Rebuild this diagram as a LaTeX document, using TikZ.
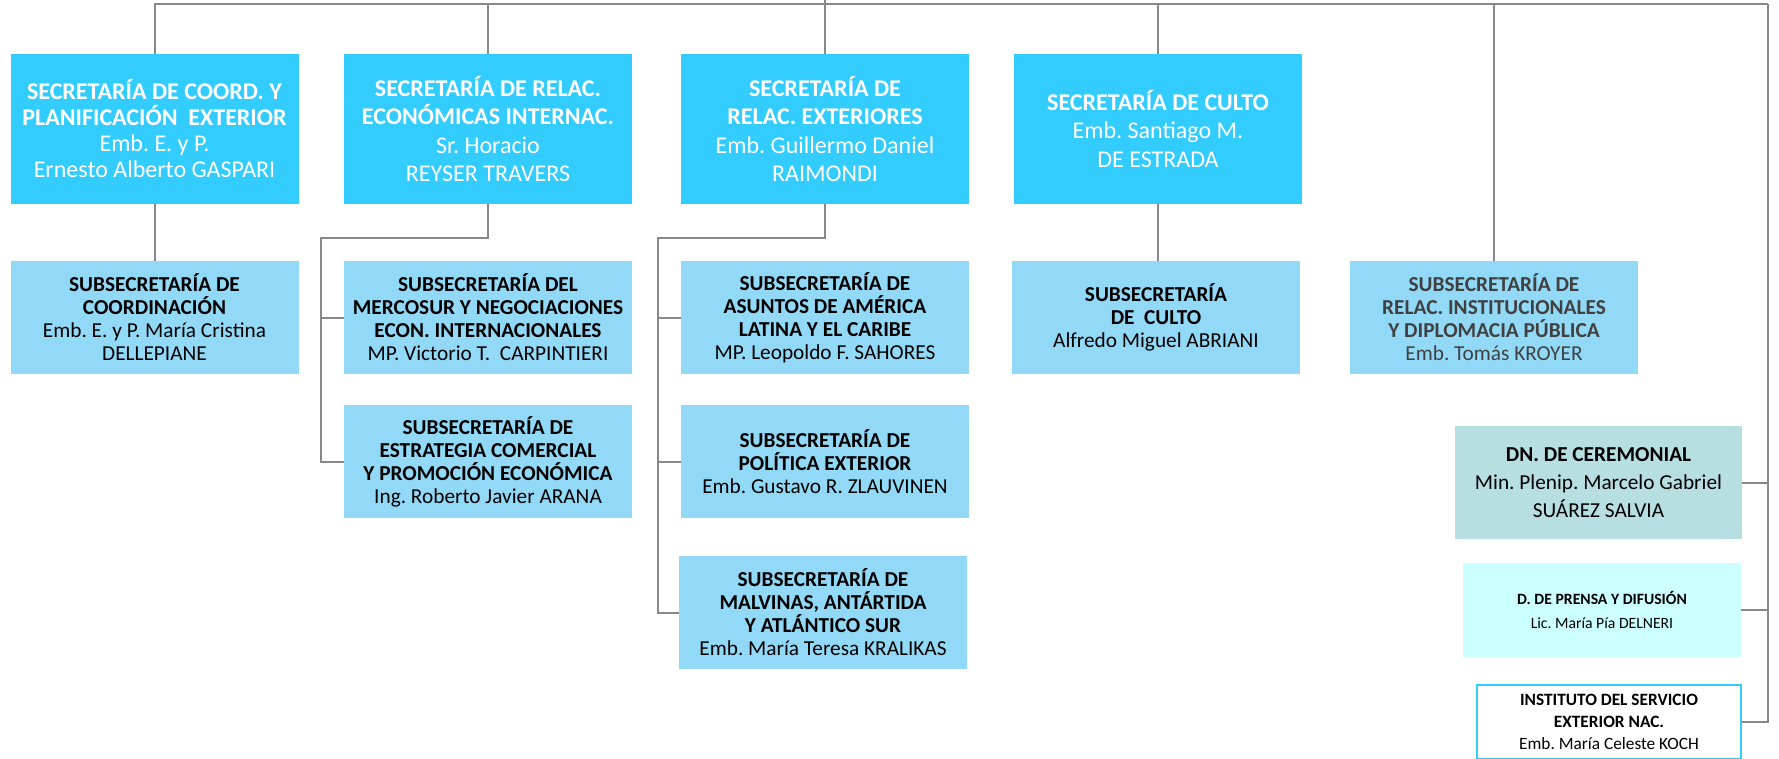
\documentclass[tikz,border=0pt]{standalone}
\usepackage{fontspec}
\setmainfont{Carlito}
\frenchspacing
\definecolor{secblue}{RGB}{51,204,255}
\definecolor{subblue}{RGB}{145,217,247}
\definecolor{ceremgray}{RGB}{183,223,226}
\definecolor{prensacyan}{RGB}{204,255,255}
\definecolor{linegray}{RGB}{136,136,136}
\definecolor{darktext}{RGB}{64,64,64}

\begin{document}
\begin{tikzpicture}[x=1pt, y=-1pt,
    sec/.style={rectangle, fill=secblue, text=white, minimum width=288pt, minimum height=150pt, inner sep=0pt, align=center, font=\fontsize{24}{28.5}\selectfont},
    sub/.style={rectangle, fill=subblue, text=black, minimum width=288pt, minimum height=113pt, inner sep=0pt, align=center, font=\fontsize{21.3}{23}\selectfont},
    link/.style={draw=linegray, line width=2pt}]
    \useasboundingbox (0,0) rectangle (1779,758);

    % Secretarias
    \node[sec, font=\fontsize{24}{26}\selectfont] (coordsec) at (154.5,129) {\textbf{SECRETARÍA DE COORD. Y}\\\textbf{PLANIFICACIÓN\ \ EXTERIOR}\\Emb. E. y P.\\Ernesto Alberto GASPARI};
    \node[sec] (econsec) at (488,129) {\textbf{SECRETARÍA DE RELAC.}\\\textbf{ECONÓMICAS INTERNAC.}\\Sr. Horacio\\REYSER TRAVERS};
    \node[sec] (extsec) at (825,129) {\textbf{SECRETARÍA DE}\\\textbf{RELAC. EXTERIORES}\\Emb. Guillermo Daniel\\RAIMONDI};
    \node[sec] (cultosec) at (1158,129) {\textbf{SECRETARÍA DE CULTO}\\Emb. Santiago M.\\DE ESTRADA};

    % Subsecretarias
    \node[sub] (coordsub) at (154.5,317.5) {\textbf{SUBSECRETARÍA DE}\\\textbf{COORDINACIÓN}\\Emb. E. y P. María Cristina\\DELLEPIANE};
    \node[sub] (mercosub) at (488,317.5) {\textbf{SUBSECRETARÍA DEL}\\\textbf{MERCOSUR Y NEGOCIACIONES}\\\textbf{ECON. INTERNACIONALES}\\MP. Victorio T.\ \ CARPINTIERI};
    \node[sub] (comsub) at (488,461.5) {\textbf{SUBSECRETARÍA DE}\\\textbf{ESTRATEGIA COMERCIAL}\\\textbf{Y PROMOCIÓN ECONÓMICA}\\Ing. Roberto Javier ARANA};
    \node[sub] (latsub) at (825,317.5) {\textbf{SUBSECRETARÍA DE}\\\textbf{ASUNTOS DE AMÉRICA}\\\textbf{LATINA Y EL CARIBE}\\MP. Leopoldo F. SAHORES};
    \node[sub] (polsub) at (825,461.5) {\textbf{SUBSECRETARÍA DE}\\\textbf{POLÍTICA EXTERIOR}\\Emb. Gustavo R. ZLAUVINEN};
    \node[sub] (malsub) at (823,612.5) {\textbf{SUBSECRETARÍA DE}\\\textbf{MALVINAS, ANTÁRTIDA}\\\textbf{Y ATLÁNTICO SUR}\\Emb. María Teresa KRALIKAS};
    \node[sub] (cultosub) at (1156,317.5) {\textbf{SUBSECRETARÍA}\\\textbf{DE\ \ CULTO}\\Alfredo Miguel ABRIANI};
    \node[sub, text=darktext] (instsub) at (1494,317.5) {\textbf{SUBSECRETARÍA DE}\\\textbf{RELAC. INSTITUCIONALES}\\\textbf{Y DIPLOMACIA PÚBLICA}\\Emb. Tomás KROYER};

    % Direcciones
    \node[sub, fill=ceremgray, minimum width=287pt, font=\fontsize{21.3}{28}\selectfont] (cerem) at (1598.5,482.5) {\textbf{DN. DE CEREMONIAL}\\Min. Plenip. Marcelo Gabriel\\SUÁREZ SALVIA};
    \node[sub, fill=prensacyan, minimum width=278pt, minimum height=94pt, font=\fontsize{15.7}{23.5}\selectfont] (prensa) at (1602,610) {\textbf{D. DE PRENSA Y DIFUSIÓN}\\Lic. María Pía DELNERI};
    \node[sub, fill=white, draw=secblue, line width=2pt, minimum width=264pt, minimum height=74pt, font=\fontsize{17.3}{22}\selectfont] (isen) at (1609,722) {\textbf{INSTITUTO DEL SERVICIO}\\\textbf{EXTERIOR NAC.}\\Emb. María Celeste KOCH};

    % Lines
    \coordinate (root) at (825,0);
    \coordinate (rail) at (1768,4);
    \coordinate (econbus) at (321,238);
    \coordinate (extbus) at (658,238);
    \draw[link] (root) -- (extsec);
    \draw[link] (coordsec.north) |- (rail);
    \draw[link] (econsec.north) -- (econsec.north |- rail);
    \draw[link] (cultosec.north) -- (cultosec.north |- rail);
    \draw[link] (instsub.north) -- (instsub.north |- rail);
    \draw[link] (rail) |- (isen.east);
    \draw[link] (cerem.east) -- (cerem.east -| rail);
    \draw[link] (prensa.east) -- (prensa.east -| rail);

    \draw[link] (coordsec) -- (coordsub);
    \draw[link] (cultosec.south) -- (cultosec.south |- cultosub.north);
    \draw[link] (econsec.south) |- (econbus) |- (comsub.west);
    \draw[link] (mercosub.west) -- (mercosub.west -| econbus);
    \draw[link] (extsec.south) |- (extbus) |- (malsub.west);
    \draw[link] (latsub.west) -- (latsub.west -| extbus);
    \draw[link] (polsub.west) -- (polsub.west -| extbus);
\end{tikzpicture}
\end{document}
